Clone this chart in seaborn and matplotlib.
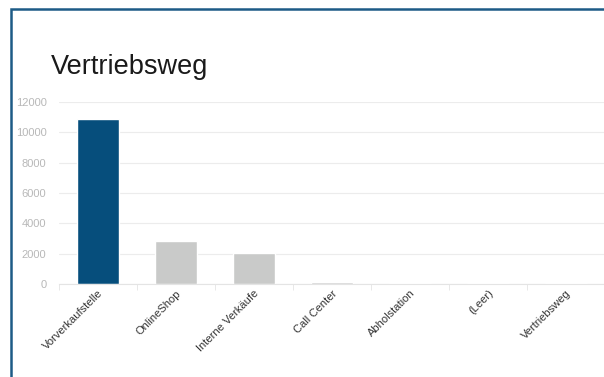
import seaborn as sns
import matplotlib.pyplot as plt
import pandas as pd
from matplotlib.patches import Rectangle

# Chart data
categories = ["Vorverkaufstelle", "OnlineShop", "Interne Verkäufe", "Call Center",
              "Abholstation", "(Leer)", "Vertriebsweg"]
values = [10900, 2850, 2050, 100, 90, 80, 70]
y_ticks = [0, 2000, 4000, 6000, 8000, 10000, 12000]

df = pd.DataFrame({"weg": categories, "anzahl": values})
colors = ["#064e7c"] + ["#c9cac9"] * (len(categories) - 1)

sns.set_style("white")
plt.rcParams["font.family"] = ["Liberation Sans", "DejaVu Sans"]

fig = plt.figure(figsize=(6.04, 3.77), dpi=100)
ax = fig.add_axes([59 / 604, 1 - 284 / 377, 546 / 604, (284 - 102) / 377])

sns.barplot(data=df, x="weg", y="anzahl", hue="weg", palette=colors,
            width=0.54, legend=False, ax=ax, saturation=1)

ax.set_ylim(0, 12000)
ax.set_xlim(-0.5, len(categories) - 0.5)
ax.set_yticks(y_ticks)
ax.set_yticklabels([str(t) for t in y_ticks], color="#b8b8b8", fontsize=8)
ax.grid(axis="y", color="#ececec", linewidth=0.8)
ax.set_axisbelow(True)
for s in ["top", "right", "left"]:
    ax.spines[s].set_visible(False)
ax.spines["bottom"].set_color("#e4e4e4")
ax.tick_params(axis="y", length=0, pad=9)

# small separators between categories
ax.set_xticks([i - 0.5 for i in range(len(categories) + 1)], minor=True)
ax.tick_params(axis="x", which="minor", length=4, color="#e4e4e4", bottom=True)
ax.tick_params(axis="x", which="major", length=0, pad=3)
ax.set_xticks(range(len(categories)))
ax.set_xticklabels(categories, rotation=45, ha="right", rotation_mode="anchor",
                   fontsize=8, color="#333333")
ax.set_xlabel("")
ax.set_ylabel("")

fig.text(51 / 604, 1 - 67 / 377, "Vertriebsweg", fontsize=19.5, color="#1a1a1a",
         va="center", ha="left")

# blue frame around the panel
fig.patches.append(Rectangle((11 / 604, -0.05), 1.0, 1 - 9 / 377 + 0.05,
                             transform=fig.transFigure, fill=False,
                             edgecolor="#1d5b86", linewidth=1.8))

plt.savefig("out.png", dpi=100)
